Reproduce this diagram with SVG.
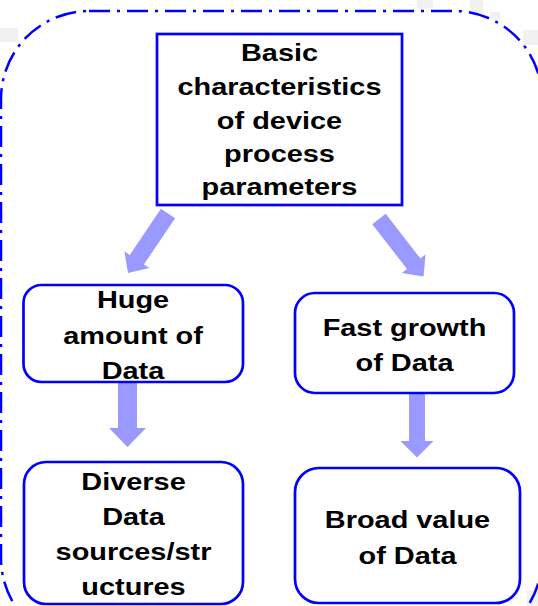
<svg xmlns="http://www.w3.org/2000/svg" width="538" height="606" viewBox="0 0 538 606">
<style>
.box{fill:#ffffff;stroke:#0000ff;stroke-width:2.7}
.arr{fill:#9999ff;stroke:none}
.t{font-family:"Liberation Sans",Arial,sans-serif;font-weight:bold;font-size:24.5px;fill:#000000;text-anchor:middle}
.bg{fill:#f1f1f1}
</style>
<rect width="538" height="606" fill="#ffffff"/>
<g id="background-patches">
<rect class="bg" x="0" y="28" width="18" height="14"/>
<rect class="bg" x="417" y="0" width="16" height="8"/>
<rect class="bg" x="470" y="0" width="13" height="13"/>
<rect class="bg" x="490" y="12" width="10" height="8"/>
<rect class="bg" x="523" y="30" width="15" height="15"/>
<rect class="bg" x="527" y="590" width="11" height="16"/>
</g>
<rect id="frame" x="1" y="11" width="541" height="635" rx="88" ry="88" fill="none" stroke="#0000ff" stroke-width="2.5" stroke-dasharray="21 7 3 7"/>
<g id="connectors">
<polygon class="arr" points="160.9,208.8 129.8,255.0 124.4,251.3 128,273 149.4,268.1 143.9,264.4 175.1,218.2"/>
<polygon class="arr" points="385.7,213.8 420.4,258.6 425.6,254.6 423.5,276.5 401.8,273.0 407.0,269.0 372.3,224.2"/>
<polygon class="arr" points="118,380 137,380 137,428 146,428 127.5,447 109,428 118,428"/>
<polygon class="arr" points="409,390 425,390 425,441 433.5,441 417,457.5 400.5,441 409,441"/>
</g>
<g id="node-basic">
<rect class="box" x="157" y="34" width="245" height="171"/>
<g transform="translate(279.5,0) scale(1.18,1)">
<text class="t" x="0" y="61">Basic</text>
<text class="t" x="0" y="95.5">characteristics</text>
<text class="t" x="0" y="129">of device</text>
<text class="t" x="0" y="162">process</text>
<text class="t" x="0" y="195">parameters</text>
</g>
</g>
<g id="node-huge">
<rect class="box" x="23.5" y="285" width="219.5" height="97" rx="18" ry="18"/>
<g transform="translate(133,0) scale(1.18,1)">
<text class="t" x="0" y="308.5">Huge</text>
<text class="t" x="0" y="344">amount of</text>
<text class="t" x="0" y="379.5">Data</text>
</g>
</g>
<g id="node-fast">
<rect class="box" x="295" y="293" width="219" height="100" rx="20" ry="20"/>
<g transform="translate(404.5,0) scale(1.18,1)">
<text class="t" x="0" y="336">Fast growth</text>
<text class="t" x="0" y="371">of Data</text>
</g>
</g>
<g id="node-diverse">
<rect class="box" x="24" y="462" width="219" height="142" rx="22" ry="22"/>
<g transform="translate(133.5,0) scale(1.18,1)">
<text class="t" x="0" y="490">Diverse</text>
<text class="t" x="0" y="525">Data</text>
<text class="t" x="0" y="560">sources/str</text>
<text class="t" x="0" y="595">uctures</text>
</g>
</g>
<g id="node-broad">
<rect class="box" x="295" y="468" width="225" height="135" rx="24" ry="24"/>
<g transform="translate(407.5,0) scale(1.18,1)">
<text class="t" x="0" y="528">Broad value</text>
<text class="t" x="0" y="564">of Data</text>
</g>
</g>
</svg>
